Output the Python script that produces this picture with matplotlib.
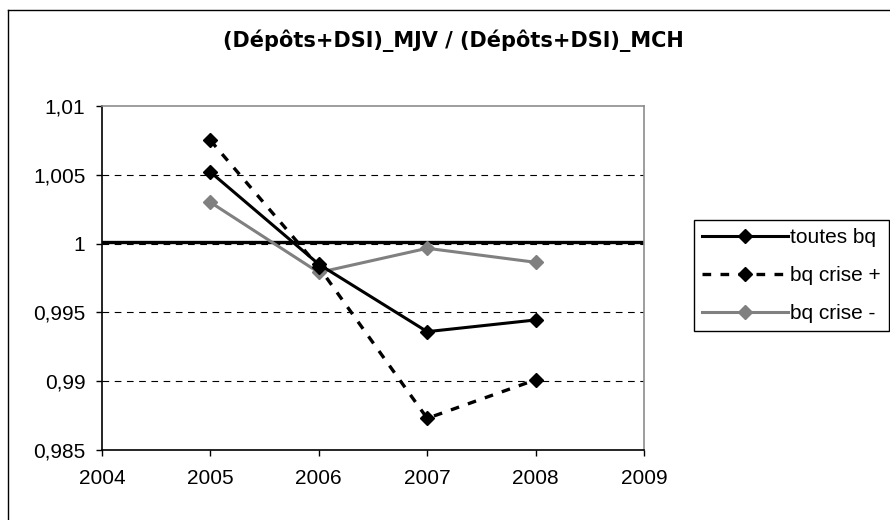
import matplotlib.pyplot as plt
from matplotlib.lines import Line2D

# data
annees = [2005, 2006, 2007, 2008]
toutes_bq = [1.0052, 0.9985, 0.9936, 0.99445]
bq_crise_plus = [1.0075, 0.9983, 0.9873, 0.9901]
bq_crise_moins = [1.0030, 0.9979, 0.99966, 0.99864]
niveau_ref = 1.0001

x_ticks = [2004, 2005, 2006, 2007, 2008, 2009]
y_ticks = [0.985, 0.99, 0.995, 1.0, 1.005, 1.01]
y_labels = ["0,985", "0,99", "0,995", "1", "1,005", "1,01"]
titre = "(Dépôts+DSI)_MJV / (Dépôts+DSI)_MCH"

plt.rcParams['font.family'] = ['Liberation Sans', 'DejaVu Sans']

fig = plt.figure(figsize=(8.9, 5.2), dpi=100)
ax = fig.add_axes([102 / 890, 1 - 450 / 520, 542 / 890, 344 / 520])

# grille pointillee
for v in y_ticks[1:-1]:
    ax.axhline(v, color='black', lw=0.8, ls=(0, (6, 5)), zorder=1)
ax.axhline(niveau_ref, color='black', lw=2.4, zorder=2)

ax.plot(annees, toutes_bq, color='black', lw=2.2, marker='D', ms=7,
        label='toutes bq', zorder=4)
ax.plot(annees, bq_crise_plus, color='black', lw=2.4, ls=(0, (2.6, 2.8)),
        marker='D', ms=7, label='bq crise +', zorder=4)
ax.plot(annees, bq_crise_moins, color='#808080', lw=2.2, marker='D', ms=7,
        label='bq crise -', zorder=3)

ax.set_xlim(2004, 2009)
ax.set_ylim(0.985, 1.01)
ax.set_xticks(x_ticks)
ax.set_xticklabels([str(a) for a in x_ticks])
ax.set_yticks(y_ticks)
ax.set_yticklabels(y_labels)
ax.tick_params(axis='both', labelsize=15, length=4, width=1, color='black')
ax.tick_params(axis='y', pad=8)
ax.tick_params(axis='x', pad=10)

ax.spines['left'].set_color('black')
ax.spines['bottom'].set_color('black')
ax.spines['top'].set_color('#8c8c8c')
ax.spines['right'].set_color('#8c8c8c')
for s in ax.spines.values():
    s.set_linewidth(1.2)

leg = ax.legend(loc='upper left', bbox_to_anchor=(694 / 890, 1 - 220 / 520),
                bbox_transform=fig.transFigure, fontsize=15, handlelength=4.1,
                handletextpad=0.1, borderpad=0.4, labelspacing=0.9,
                fancybox=False, framealpha=1, borderaxespad=0)
leg.get_frame().set_edgecolor('black')
leg.get_frame().set_linewidth(1)

fig.text(453 / 890, 1 - 41 / 520, titre, ha='center', va='center',
         fontsize=15, fontweight='bold', family='DejaVu Sans')

# cadre du graphique (gauche et haut visibles)
fig.add_artist(Line2D([8 / 890, 8 / 890], [0, 1 - 10 / 520], color='black',
                      lw=1, transform=fig.transFigure))
fig.add_artist(Line2D([8 / 890, 1], [1 - 10 / 520, 1 - 10 / 520], color='black',
                      lw=1, transform=fig.transFigure))

fig.savefig('out.png', dpi=100)
